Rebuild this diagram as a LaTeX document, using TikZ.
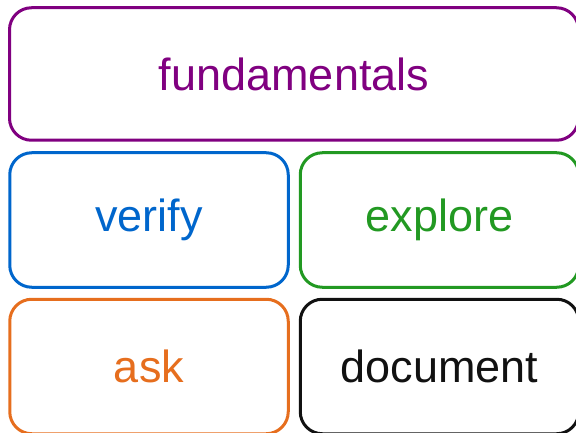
\documentclass[tikz,border=0pt]{standalone}
\usepackage{fontspec}
\setmainfont{Liberation Sans}
\definecolor{cpurple}{RGB}{128,0,128}
\definecolor{cblue}{RGB}{0,102,204}
\definecolor{cgreen}{RGB}{34,153,34}
\definecolor{corange}{RGB}{230,110,30}
\definecolor{cblack}{RGB}{17,17,17}
\tikzset{
  card/.style={draw=#1, text=#1, line width=3pt, rounded corners=22pt, inner sep=0pt,
    font=\fontsize{45}{54}\selectfont},
}
\begin{document}
\begin{tikzpicture}[x=1pt,y=-1pt]
\useasboundingbox (0,0) rectangle (576,433);
\node[card=cpurple, minimum width=569pt, minimum height=132.5pt] (fund) at (294,74) {fundamentals};
\node[card=cblue, minimum width=278.5pt, minimum height=134.5pt] (verify) at (149,220) {verify};
\node[card=cgreen, minimum width=278.5pt, minimum height=134.5pt] (explore) at (439.5,220) {explore};
\node[card=corange, minimum width=278.5pt, minimum height=134.5pt] (ask) at (149,366.5) {ask};
\node[card=cblack, minimum width=278.5pt, minimum height=134.5pt] (doc) at (439.5,366.5) {document};
\end{tikzpicture}
\end{document}
